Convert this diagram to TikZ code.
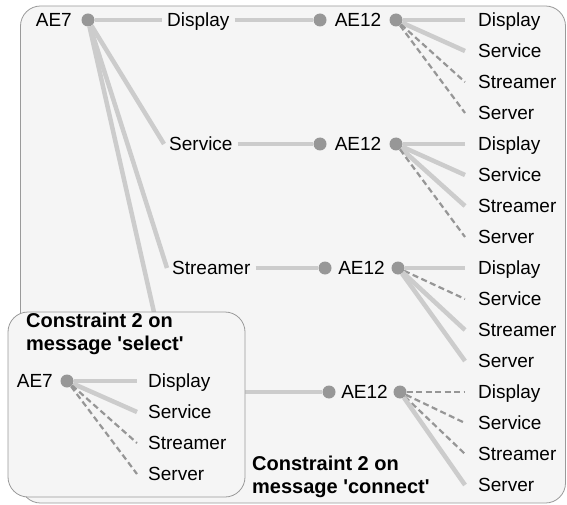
\documentclass[tikz,border=0pt]{standalone}
\usepackage{fontspec}
\setmainfont{Liberation Sans}
\usetikzlibrary{positioning}
\definecolor{boxfill}{HTML}{F5F5F5}
\definecolor{boxline}{HTML}{9A9A9A}
\definecolor{linkgray}{HTML}{CCCCCC}
\definecolor{dashgray}{HTML}{969696}
\definecolor{dotgray}{HTML}{979797}

\begin{document}
\begin{tikzpicture}[x=1pt, y=-1pt,
    panel/.style={draw=boxline, fill=boxfill, rounded corners=20pt, line width=0.8pt},
    dot/.style={circle, fill=dotgray, minimum size=13pt, inner sep=0pt},
    lbl/.style={font=\fontsize{19}{22}\selectfont, inner sep=5pt, text height=13.6pt, text depth=0pt},
    leaf/.style={lbl, anchor=west, inner xsep=13pt},
    heading/.style={font=\bfseries\fontsize{20}{23}\selectfont, align=left, anchor=west, inner sep=4pt},
    link/.style={draw=linkgray, line width=4.5pt},
    weak/.style={draw=dashgray, line width=2.2pt, dash pattern=on 6pt off 3.5pt}
  ]

  % Outer panel
  \draw[panel] (20.5,6) rectangle (565.5,503);
  \useasboundingbox (0,0) rectangle (567,505);

  % Top level
  \node[lbl, anchor=east] (ae7) at (77,20) {AE7};
  \node[dot] (p0) at (88,20) {};
  \node[lbl, anchor=west] (c1) at (162,20) {Display};
  \node[lbl, anchor=west] (c2) at (164,144) {Service};
  \node[lbl, anchor=west] (c3) at (167,268) {Streamer};
  \coordinate (c4) at (172,392);

  \foreach \k in {1,2,3}
    \draw[link] (p0) -- (c\k.west);
  \draw[link] (p0) -- (c4);

  % AE12 nodes
  \foreach \i/\y/\xa/\xb in {1/20/320/396, 2/144/320/396, 3/268/325/398, 4/392/329/400} {
    \node[dot] (dl\i) at (\xa,\y) {};
    \node[lbl, inner sep=0pt] (ae\i) at ({(\xa+\xb)/2},\y) {AE12};
    \node[dot] (dr\i) at (\xb,\y) {};
  }
  \foreach \k in {1,2,3}
    \draw[link] (c\k.east) -- (dl\k);
  \draw[link] (c4) -- (dl4);

  % Leaves
  \foreach \i in {1,...,4}
    \foreach \j/\t in {1/Display,2/Service,3/Streamer,4/Server}
      \node[leaf] (lf\i\j) at (465,{20+31*(4*\i+\j-5)}) {\t};

  \foreach \i/\sa/\sb/\sc/\sd in {1/link/link/weak/weak, 2/link/link/link/weak,
                                  3/link/weak/link/link, 4/weak/weak/weak/link} {
    \draw[\sa] (dr\i) -- (lf\i1.west);
    \draw[\sb] (dr\i) -- (lf\i2.west);
    \draw[\sc] (dr\i) -- (lf\i3.west);
    \draw[\sd] (dr\i) -- (lf\i4.west);
  }

  % Constraint on 'select'
  \draw[panel] (8,312) rectangle (245,497);
  \node[heading] (sel) at (22,334) {Constraint 2 on\\message \textquotesingle select\textquotesingle};
  \node[lbl, anchor=east] (ae7b) at (58,381) {AE7};
  \node[dot] (p5) at (67,381) {};
  \foreach \j/\t in {1/Display,2/Service,3/Streamer,4/Server}
    \node[lbl, anchor=west, inner xsep=11pt] (sb\j) at (137,{381+31*(\j-1)}) {\t};
  \draw[link] (p5) -- (sb1.west);
  \draw[link] (p5) -- (sb2.west);
  \draw[weak] (p5) -- (sb3.west);
  \draw[weak] (p5) -- (sb4.west);

  % Constraint on 'connect'
  \node[heading] (con) at (248,476.5) {Constraint 2 on\\message \textquotesingle connect\textquotesingle};

\end{tikzpicture}
\end{document}
